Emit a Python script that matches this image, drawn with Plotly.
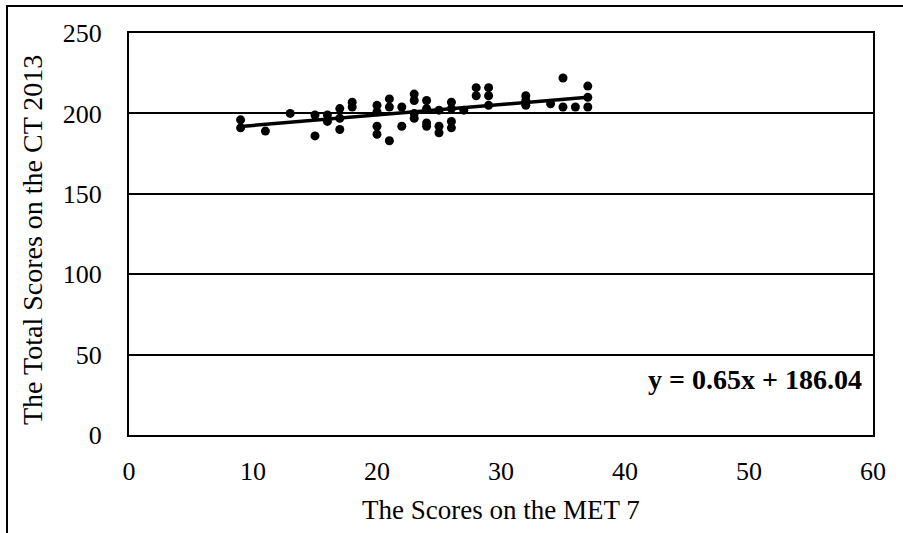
import plotly.graph_objects as go

met7 = [9, 9, 11, 13, 15, 15, 16, 16, 17, 17, 17, 18, 18,
        20, 20, 20, 20, 21, 21, 21, 22, 22, 23, 23, 23, 23,
        24, 24, 24, 24, 25, 25, 25, 26, 26, 26, 26, 27,
        28, 28, 29, 29, 29, 32, 32, 32, 34, 35, 35, 36, 37, 37, 37]
ct2013 = [196, 191, 189, 200, 199, 186, 199, 195, 203, 197, 190, 207, 204,
          205, 201, 192, 187, 209, 204, 183, 204, 192, 212, 208, 200, 197,
          208, 203, 194, 192, 202, 192, 188, 207, 203, 195, 191, 202,
          216, 211, 216, 211, 205, 211, 208, 205, 206, 222, 204, 204, 217, 210, 204]
slope = 0.65
intercept = 186.04
x_ticks = [0, 10, 20, 30, 40, 50, 60]
y_ticks = [0, 50, 100, 150, 200, 250]

trend_x = [min(met7), max(met7)]
trend_y = [slope * v + intercept for v in trend_x]

fig = go.Figure()
fig.add_trace(go.Scatter(x=met7, y=ct2013, mode="markers",
                         marker=dict(color="black", size=9, line=dict(width=0)),
                         showlegend=False, cliponaxis=False))
fig.add_trace(go.Scatter(x=trend_x, y=trend_y, mode="lines",
                         line=dict(color="black", width=3.5), showlegend=False))

fam = "Liberation Serif, Times New Roman, serif"
tick_font = dict(family=fam, size=26, color="black")
title_font = dict(family=fam, size=27, color="black")

L, T, PW, PH = 129, 33, 744, 402

fig.update_layout(
    width=903, height=533,
    margin=dict(l=L, r=903 - L - PW, t=T, b=533 - T - PH, autoexpand=False),
    paper_bgcolor="white", plot_bgcolor="white",
    font=tick_font,
    xaxis=dict(range=[0, 60], tickvals=x_ticks, showgrid=False, zeroline=False,
               showline=True, linecolor="black", linewidth=2, mirror=True,
               ticks="", ticklabelstandoff=12, tickfont=tick_font, automargin=False),
    yaxis=dict(range=[0, 250], tickvals=y_ticks, showgrid=True, gridcolor="black",
               gridwidth=1.5, zeroline=False,
               showline=True, linecolor="black", linewidth=2, mirror=True,
               ticks="", ticklabelstandoff=20, tickfont=tick_font, automargin=False),
    annotations=[
        dict(text="<b>y = 0.65x + 186.04</b>", xref="paper", yref="paper",
             x=(864 - L) / PW, y=(435 - 379) / PH, xanchor="right", yanchor="middle",
             showarrow=False, font=dict(family=fam, size=28, color="black")),
        dict(text="The Scores on the MET 7", xref="paper", yref="paper",
             x=0.5, y=(435 - 510) / PH, xanchor="center", yanchor="middle",
             showarrow=False, font=title_font),
        dict(text="The Total Scores on the CT 2013", xref="paper", yref="paper",
             x=(32 - L) / PW, y=(435 - 240) / PH, xanchor="center", yanchor="middle",
             textangle=-90, showarrow=False, font=dict(family=fam, size=28, color="black")),
    ],
    shapes=[dict(type="rect", xref="paper", yref="paper",
                 x0=(7 - L) / PW, x1=(910 - L) / PW,
                 y0=(435 - 545) / PH, y1=(435 - 6) / PH,
                 line=dict(color="black", width=2), fillcolor="rgba(0,0,0,0)",
                 layer="below")],
)

fig.write_html("out.html", config={"displayModeBar": False},
               post_script="document.body.style.margin='0';document.body.style.overflow='hidden';")
